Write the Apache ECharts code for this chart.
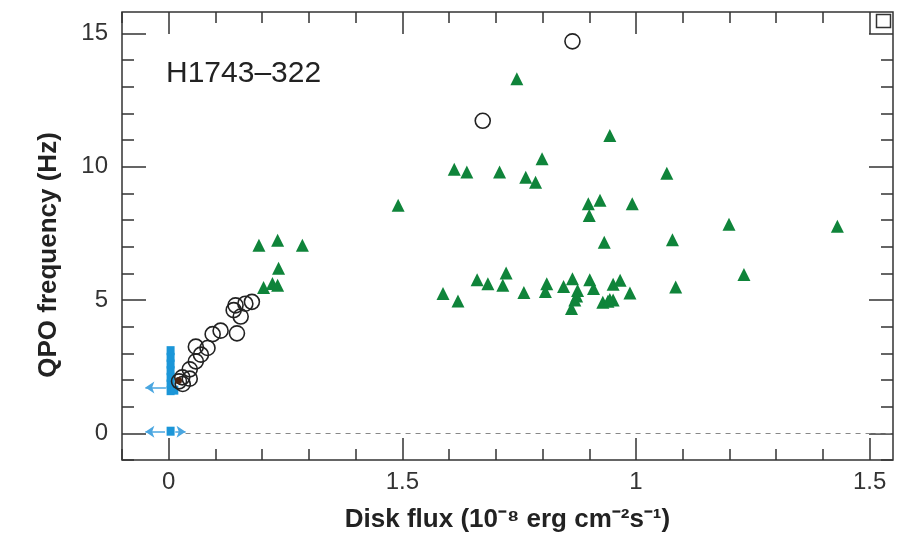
<!DOCTYPE html>
<html>
<head>
<meta charset="utf-8">
<script src="https://cdn.jsdelivr.net/npm/echarts@6/dist/echarts.min.js"></script>
<style>
html,body{margin:0;padding:0;background:#fff;}
#chart{width:906px;height:534px;}
</style>
</head>
<body>
<div id="chart"></div>
<script>
// ---- data ----
const xTickValues = [0, 0.5, 1, 1.5];
const xTickLabels = ['0', '1.5', '1', '1.5'];
const xMinorTicks = [-0.1, 0.1, 0.2, 0.3, 0.4, 0.6, 0.7, 0.8, 0.9, 1.1, 1.2, 1.3, 1.4, 1.5];
const yTickValues = [0, 5, 10, 15];
const yTickLabels = ['0', '5', '10', '15'];
const yMinorTicks = [-1, 1, 2, 3, 4, 6, 7, 8, 9, 11, 12, 13, 14, 15];

const sourceLabel = 'H1743\u2013322';
const xTitle = 'Disk flux (10\u207B\u2078 erg cm\u207B\u00B2s\u207B\u00B9)';
const yTitle = 'QPO frequency (Hz)';

// green triangles [disk flux, QPO freq]
const greenPoints = [
  [0.193,7.05],[0.233,7.24],[0.286,7.05],[0.235,6.19],[0.203,5.47],[0.222,5.62],[0.233,5.55],
  [0.491,8.55],[0.611,9.9],[0.638,9.8],[0.708,9.8],[0.764,9.6],[0.785,9.42],[0.799,10.3],
  [0.745,13.3],[0.944,11.17],[0.898,8.61],[0.923,8.74],[0.992,8.61],[0.900,8.17],[0.932,7.17],
  [1.066,9.75],[1.078,7.26],[1.199,7.84],[1.431,7.77],[1.231,5.96],[1.085,5.49],
  [0.587,5.24],[0.619,4.96],[0.660,5.76],[0.683,5.61],[0.722,6.01],[0.715,5.55],[0.760,5.28],
  [0.809,5.61],[0.806,5.32],[0.845,5.51],[0.864,5.8],[0.875,5.36],[0.869,5.0],[0.862,4.68],
  [0.901,5.76],[0.909,5.43],[0.929,4.92],[0.940,4.95],[0.951,5.0],[0.951,5.59],[0.966,5.74],
  [0.987,5.26],[0.873,5.15],[0.944,5.02]
];
// open circles
const circlePoints = [
  [0.022,1.95],[0.029,2.1],[0.030,1.85],[0.045,2.05],[0.045,2.4],[0.058,2.7],[0.069,2.95],
  [0.058,3.25],[0.083,3.2],[0.094,3.72],[0.111,3.85],[0.146,3.75],[0.139,4.62],[0.154,4.38],
  [0.143,4.8],[0.164,4.86],[0.178,4.93],[0.672,11.72],[0.864,14.7]
];
// dark filled point
const darkPoints = [[0.021,1.98]];
// blue upper-limit points at zero flux
const bluePoints = [
  [0.004,1.6],[0.004,1.85],[0.004,2.1],[0.004,2.35],[0.004,2.6],[0.004,2.85],[0.004,3.1],
  [0.012,1.62],[0.004,0.08]
];
// blue arrows: [fromX, toX, y]
const blueArrows = [
  [-0.006, -0.05, 1.72],
  [-0.008, -0.05, 0.06],
  [0.014, 0.036, 0.06]
];
// dashed zero line extent
const zeroLine = [[0.036, 0], [1.55, 0]];

// ---- chart ----
const FONT = '"Liberation Sans", Arial, Helvetica, sans-serif';
const X_MIN = -0.1, X_MAX = 1.55, Y_MIN = -1, Y_MAX = 15.8;
const tickStyle = {color: '#333', width: 1.5};

function xAxisDef(pos, major, withLabels) {
  const a = {
    type: 'value', position: pos, min: X_MIN, max: X_MAX,
    axisLine: {show: false, onZero: false}, splitLine: {show: false},
    axisTick: {show: true, inside: true, length: major ? 22 : 11, lineStyle: tickStyle,
      customValues: major ? xTickValues : xMinorTicks},
    axisLabel: {show: false}
  };
  if (withLabels) {
    a.axisLabel = {show: true, customValues: xTickValues, margin: 10,
      fontFamily: FONT, fontSize: 24, color: '#333',
      formatter: v => { const i = xTickValues.findIndex(t => Math.abs(t - v) < 1e-9); return i >= 0 ? xTickLabels[i] : ''; }};
    a.name = xTitle; a.nameLocation = 'middle'; a.nameGap = 47;
    a.nameTextStyle = {fontFamily: FONT, fontSize: 26, fontWeight: 'bold', color: '#222'};
  }
  return a;
}
function yAxisDef(pos, major, withLabels) {
  const a = {
    type: 'value', position: pos, min: Y_MIN, max: Y_MAX,
    axisLine: {show: false, onZero: false}, splitLine: {show: false},
    axisTick: {show: true, inside: true, length: major ? 24 : 12, lineStyle: tickStyle,
      customValues: major ? yTickValues : yMinorTicks},
    axisLabel: {show: false}
  };
  if (withLabels) {
    a.axisLabel = {show: true, customValues: yTickValues, margin: 14,
      fontFamily: FONT, fontSize: 24, color: '#333',
      formatter: v => { const i = yTickValues.findIndex(t => Math.abs(t - v) < 1e-9); return i >= 0 ? yTickLabels[i] : ''; }};
  }
  return a;
}

const chart = echarts.init(document.getElementById('chart'), null, {renderer: 'canvas'});
chart.setOption({
  animation: false,
  backgroundColor: '#fff',
  grid: {left: 122, right: 13, top: 12, bottom: 74, show: true, containLabel: false,
    outerBoundsMode: 'none',
    borderColor: '#333', borderWidth: 1.5, backgroundColor: 'transparent'},
  xAxis: [xAxisDef('bottom', true, true), xAxisDef('bottom', false, false),
          xAxisDef('top', true, false), xAxisDef('top', false, false)],
  yAxis: [yAxisDef('left', true, true), yAxisDef('left', false, false),
          yAxisDef('right', true, false), yAxisDef('right', false, false)],
  graphic: [
    {type: 'text', left: 166, top: 59, silent: true,
      style: {text: sourceLabel, font: '30px ' + FONT, fill: '#222'}},
    {type: 'text', x: 49, y: 255, rotation: Math.PI / 2, silent: true,
      style: {text: yTitle, font: 'bold 26px ' + FONT, fill: '#222', align: 'center', verticalAlign: 'middle'}},
    {type: 'rect', right: 13, top: 12, silent: true,
      shape: {width: 14, height: 13}, style: {fill: 'none', stroke: '#333', lineWidth: 1.5}}
  ],
  series: [
    {
      type: 'scatter', name: 'blue', data: bluePoints, symbol: 'rect', symbolSize: [8, 9],
      itemStyle: {color: '#1b96d8', opacity: 1}, z: 2,
      markLine: {
        silent: true, symbol: ['none', 'arrow'], symbolSize: 9, label: {show: false},
        lineStyle: {color: '#4aa6e0', width: 1.5, type: 'solid'},
        data: blueArrows.map(a => [{coord: [a[0], a[2]]}, {coord: [a[1], a[2]]}])
      }
    },
    {
      type: 'scatter', name: 'green', data: greenPoints, symbol: 'triangle', symbolSize: 13,
      itemStyle: {color: '#0f843a', opacity: 1}, z: 3,
      markLine: {
        silent: true, symbol: ['none', 'none'], label: {show: false},
        lineStyle: {color: '#888', width: 1, type: [5, 5]},
        data: [[{coord: zeroLine[0]}, {coord: zeroLine[1]}]]
      }
    },
    {
      type: 'scatter', name: 'circles', data: circlePoints, symbol: 'circle', symbolSize: 15,
      itemStyle: {color: 'rgba(0,0,0,0)', borderColor: '#222', borderWidth: 1.6, opacity: 1}, z: 4
    },
    {
      type: 'scatter', name: 'dark', data: darkPoints, symbol: 'circle', symbolSize: 7,
      itemStyle: {color: '#4a2514', opacity: 1}, z: 5
    }
  ]
});
</script>
</body>
</html>
